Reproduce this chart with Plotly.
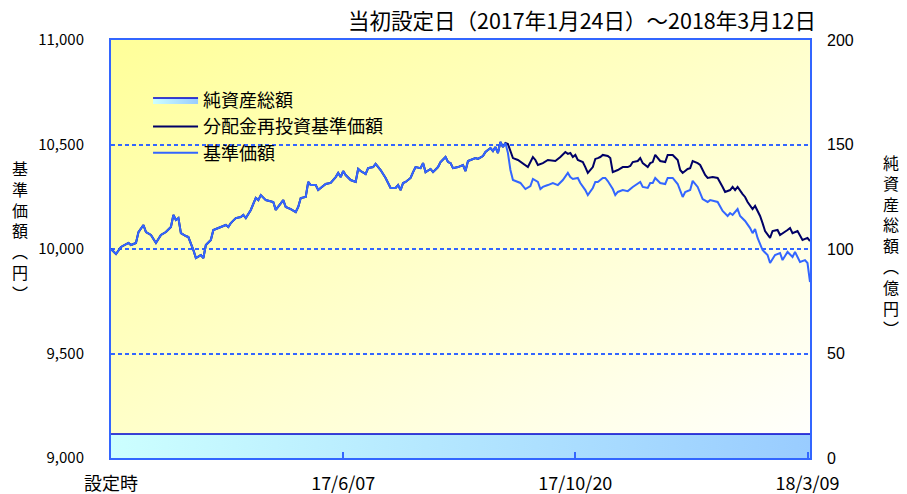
import base64
import plotly.graph_objects as go

# ---- data (trading-day index from 設定時) ----
days_common = [0, 2, 4, 7, 8, 10, 11, 13, 14, 16, 18, 20, 22, 24, 25, 26, 27, 28, 30, 31,
               33, 34, 36, 37, 38, 40, 41, 43, 44, 46, 47, 48, 50, 52, 53, 54, 56, 58, 59, 60,
               62, 63, 65, 66, 69, 70, 72, 74, 75, 76, 78, 79, 80, 82, 83, 86, 88, 90, 91, 92,
               93, 94, 96, 98, 99, 100, 102, 103, 105, 106, 108, 110, 112, 114, 115, 116, 117, 118, 120, 121,
               122, 124, 125, 126, 128, 129, 131, 132, 134, 135, 136, 137, 139, 141, 142, 143, 146, 147, 149, 150,
               152, 153, 154, 155, 156, 157, 158]
nav_common = [10000, 9976, 10010, 10029, 10019, 10029, 10081, 10115, 10081, 10067, 10029, 10067, 10081, 10105, 10163, 10139, 10148, 10076, 10062, 10057,
              9995, 9957, 9971, 9957, 10019, 10043, 10091, 10100, 10105, 10115, 10105, 10124, 10148, 10153, 10163, 10148, 10187, 10244, 10234, 10258,
              10234, 10230, 10225, 10187, 10234, 10201, 10191, 10177, 10201, 10244, 10249, 10321, 10306, 10306, 10282, 10311, 10316, 10344, 10364, 10344,
              10373, 10354, 10330, 10321, 10383, 10373, 10359, 10387, 10392, 10407, 10378, 10340, 10292, 10292, 10306, 10282, 10316, 10321, 10340, 10368,
              10392, 10387, 10411, 10368, 10383, 10368, 10392, 10416, 10440, 10416, 10411, 10387, 10392, 10402, 10373, 10421, 10435, 10431, 10445, 10464,
              10483, 10469, 10488, 10459, 10512, 10488, 10507]

days_reinv_after = [159, 161, 163, 165, 167, 169, 170, 171, 173, 175, 178, 180, 182, 183, 184, 185, 186, 187, 189, 190,
                    191, 193, 194, 195, 196, 197, 199, 200, 201, 203, 204, 205, 207, 208, 209, 211, 212, 213, 215, 216,
                    217, 218, 220, 222, 223, 225, 227, 228, 229, 231, 232, 233, 235, 236, 238, 239, 241, 243, 245, 246,
                    248, 249, 250, 251, 253, 254, 255, 257, 258, 259, 260, 261, 262, 264, 265, 267, 268, 271, 272, 273,
                    275, 277, 279, 280]
nav_reinv_after = [10502, 10435, 10426, 10411, 10392, 10440, 10426, 10402, 10411, 10426, 10421, 10440, 10464, 10455, 10459, 10440, 10450, 10426, 10416, 10392,
                   10364, 10392, 10431, 10435, 10440, 10450, 10445, 10435, 10368, 10378, 10387, 10392, 10392, 10397, 10416, 10421, 10435, 10411, 10392, 10411,
                   10416, 10450, 10421, 10416, 10450, 10450, 10426, 10378, 10364, 10383, 10387, 10421, 10411, 10402, 10354, 10340, 10344, 10340, 10297, 10273,
                   10282, 10297, 10282, 10297, 10263, 10249, 10225, 10191, 10206, 10182, 10158, 10124, 10086, 10053, 10086, 10091, 10067, 10091, 10100, 10076,
                   10086, 10043, 10053, 10038]

days_base_after = [159, 160, 161, 164, 166, 168, 169, 171, 172, 173, 175, 177, 179, 181, 183, 184, 185, 187, 188, 190,
                   191, 193, 194, 195, 197, 198, 199, 201, 202, 203, 205, 207, 209, 211, 212, 213, 215, 216, 217, 218,
                   220, 222, 223, 225, 227, 229, 230, 232, 233, 235, 237, 239, 240, 243, 245, 247, 248, 249, 251, 252,
                   254, 256, 257, 258, 259, 261, 263, 264, 266, 268, 269, 271, 273, 274, 275, 276, 278, 279, 280]
nav_base_after = [10459, 10378, 10330, 10316, 10287, 10301, 10335, 10321, 10287, 10297, 10306, 10316, 10306, 10330, 10364, 10344, 10335, 10340, 10316, 10282,
                  10258, 10292, 10321, 10321, 10340, 10340, 10325, 10287, 10258, 10273, 10282, 10277, 10297, 10311, 10321, 10297, 10292, 10316, 10316, 10340,
                  10316, 10311, 10340, 10340, 10311, 10249, 10273, 10282, 10326, 10297, 10239, 10225, 10234, 10225, 10182, 10158, 10172, 10163, 10191, 10158,
                  10134, 10100, 10076, 10096, 10053, 9995, 9971, 9933, 9971, 9981, 9947, 9986, 9962, 9986, 9962, 9938, 9947, 9933, 9842]

days_assets = [0, 40, 80, 120, 160, 200, 240, 280]
net_assets = [11.5, 11.5, 11.5, 11.5, 11.5, 11.5, 11.5, 11.5]  # 億円

tick_days = [0, 93, 186, 279]
tick_labels = ["設定時", "17/6/07", "17/10/20", "18/3/09"]

# ---- styling ----
BLUE = "#3366FF"
NAVY = "#000066"
JP = "Noto Sans CJK JP"

fig = go.Figure()

fig.add_trace(go.Scatter(
    x=days_common + days_reinv_after, y=nav_common + nav_reinv_after,
    name="分配金再投資基準価額", mode="lines",
    line=dict(color=NAVY, width=2), legendrank=2, legendgroup="b"))
fig.add_trace(go.Scatter(
    x=days_common + days_base_after, y=nav_common + nav_base_after,
    name="基準価額", mode="lines",
    line=dict(color=BLUE, width=2), legendrank=3, legendgroup="c"))
fig.add_trace(go.Scatter(
    x=days_assets, y=net_assets, yaxis="y2", name="純資産総額", mode="lines",
    line=dict(color="#0000CC", width=1.5), fill="tozeroy",
    fillgradient=dict(type="horizontal", colorscale=[[0, "#CCFFFF"], [1, "#99CCFF"]]),
    legendrank=1, legendgroup="a"))

svg = ("<svg xmlns='http://www.w3.org/2000/svg' width='100' height='100' preserveAspectRatio='none'>"
       "<defs><linearGradient id='g' x1='0' y1='0' x2='1' y2='1'>"
       "<stop offset='0' stop-color='#FFFF99'/><stop offset='1' stop-color='#FFFFFF'/>"
       "</linearGradient></defs><rect width='100' height='100' fill='url(#g)'/></svg>")
src = "data:image/svg+xml;base64," + base64.b64encode(svg.encode()).decode()

# page body has an 8px margin, so the figure is sized to fit the 907x494 window
fig.update_layout(
    width=899, height=486,
    margin=dict(l=103, r=97, t=32, b=36, autoexpand=False),
    paper_bgcolor="white", plot_bgcolor="rgba(0,0,0,0)",
    font=dict(family=JP, color="black"),
    images=[dict(source=src, xref="paper", yref="paper", x=0, y=1, sizex=1, sizey=1,
                 sizing="stretch", layer="below")],
    xaxis=dict(range=[0, 280], tickvals=tick_days, ticktext=tick_labels, automargin=False,
               showgrid=False, zeroline=False, showline=True, mirror=True,
               linecolor=BLUE, linewidth=2, ticks="inside", ticklen=6, tickcolor=BLUE,
               tickwidth=1.5, ticklabelstandoff=8,
               tickfont=dict(family=JP, size=18, color="black")),
    yaxis=dict(range=[9000, 11000], tickvals=[9000, 9500, 10000, 10500, 11000], automargin=False,
               tickformat=",", showgrid=True, gridcolor=BLUE, griddash="4px,3px", gridwidth=2,
               zeroline=False, showline=True, mirror=True, linecolor=BLUE, linewidth=2,
               ticks="", ticklabelstandoff=22,
               tickfont=dict(family=JP, size=15, color="black")),
    yaxis2=dict(range=[0, 200], tickvals=[0, 50, 100, 150, 200], overlaying="y", side="right",
                automargin=False, showgrid=False, zeroline=False, showline=False, ticks="",
                ticklabelstandoff=16,
                tickfont=dict(family="Liberation Sans, Arial", size=16, color="black")),
    legend=dict(x=0.053, y=0.9, xanchor="left", yanchor="top", bgcolor="rgba(0,0,0,0)",
                font=dict(family=JP, size=18), tracegroupgap=8, traceorder="normal",
                itemwidth=45),
    showlegend=True,
)

fig.add_annotation(text="当初設定日（2017年1月24日）～2018年3月12日", xref="paper", yref="paper",
                   x=1.012, y=1.05, xanchor="right", yanchor="middle", showarrow=False,
                   font=dict(family=JP, size=21.5))
fig.add_annotation(text="基<br>準<br>価<br>額<br>︵<br>円<br>︶", xref="paper", yref="paper",
                   x=-0.130, y=0.545, xanchor="center", yanchor="middle", showarrow=False,
                   font=dict(family=JP, size=16))
fig.add_annotation(text="純<br>資<br>産<br>総<br>額<br>︵<br>億<br>円<br>︶", xref="paper", yref="paper",
                   x=1.116, y=0.51, xanchor="center", yanchor="middle", showarrow=False,
                   font=dict(family=JP, size=16))

fig.write_html("out.html")
